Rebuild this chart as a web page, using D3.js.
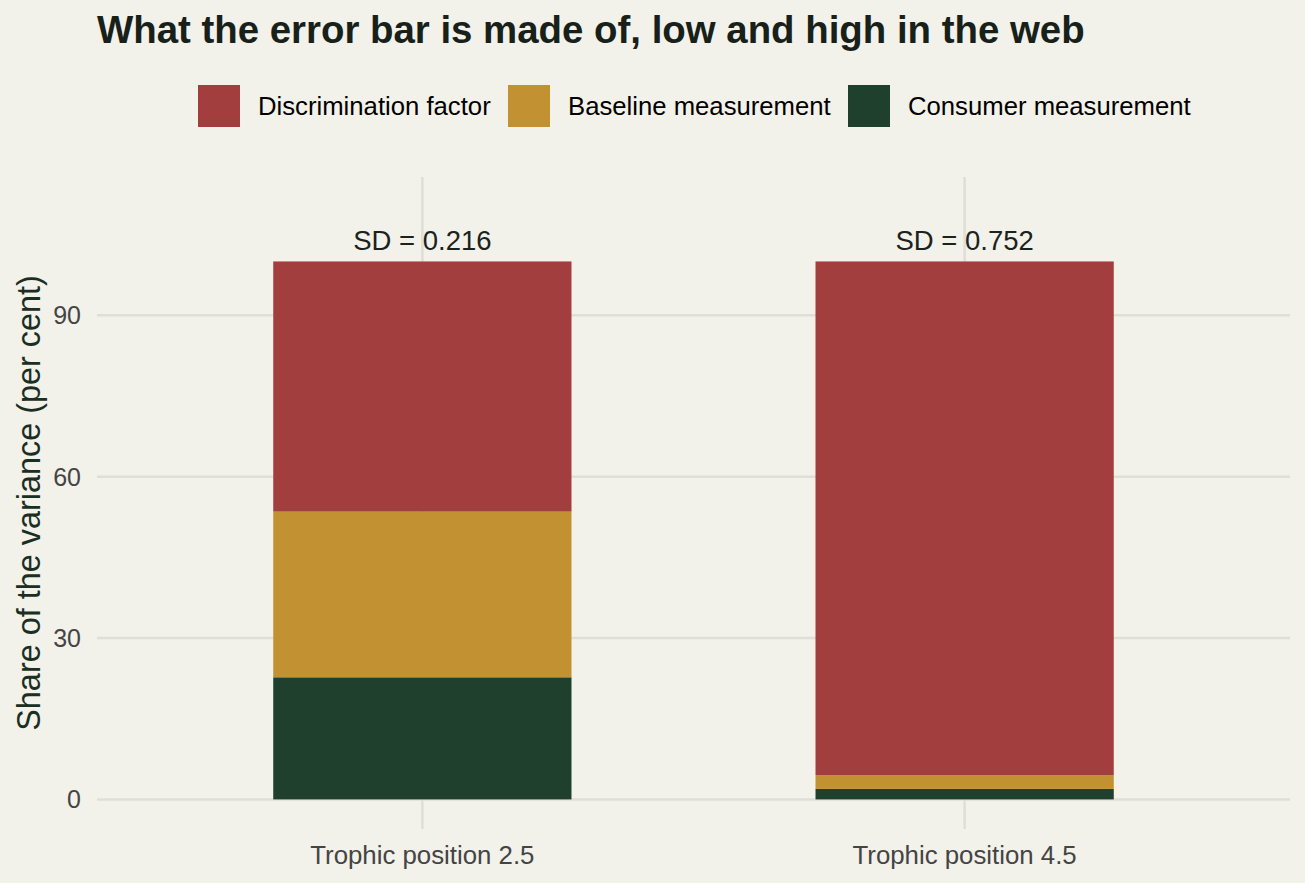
<!DOCTYPE html>
<html lang="en">
<head>
<meta charset="utf-8">
<script src="https://cdn.jsdelivr.net/npm/d3@7"></script>
<style>
    body { margin: 0; background: #F2F1EA; }
    text { font-family: "Liberation Sans", Arial, Helvetica, sans-serif; }
    .grid line { stroke: #E0DFD5; stroke-width: 2.5; }
</style>
</head>
<body>
<script>
    // values (per cent of the variance)
    var categories = ["Trophic position 2.5", "Trophic position 4.5"];
    var components = ["Discrimination factor", "Baseline measurement", "Consumer measurement"];
    var discrimination = [46.5, 95.5];
    var baseline = [30.8, 2.55];
    var consumer = [22.7, 1.95];
    var sdLabels = ["SD = 0.216", "SD = 0.752"];
    var yTicks = [0, 30, 60, 90];

    var colors = ["#A33E3E", "#C29232", "#1F402D"];

    var width = 1305, height = 883;
    var panel = {left: 97, right: 1290, top: 177, bottom: 829};

    var svg = d3.select("body").append("svg")
        .attr("width", width)
        .attr("height", height);

    svg.append("rect")
        .attr("width", width)
        .attr("height", height)
        .attr("fill", "#F2F1EA");

    var x = d3.scaleBand()
        .domain(categories)
        .range([panel.left, panel.right])
        .paddingInner(0.45)
        .paddingOuter(0.325);

    var y = d3.scaleLinear()
        .domain([-5.5, 115.7])
        .range([panel.bottom, panel.top]);

    // gridlines
    var grid = svg.append("g").attr("class", "grid");
    grid.selectAll(".hgrid")
        .data(yTicks)
        .enter().append("line")
        .attr("x1", panel.left)
        .attr("x2", panel.right)
        .attr("y1", function(d) { return y(d); })
        .attr("y2", function(d) { return y(d); });
    grid.selectAll(".vgrid")
        .data(categories)
        .enter().append("line")
        .attr("x1", function(d) { return x(d) + x.bandwidth() / 2; })
        .attr("x2", function(d) { return x(d) + x.bandwidth() / 2; })
        .attr("y1", panel.top)
        .attr("y2", panel.bottom);

    // stacked bars, consumer at the bottom
    var rows = categories.map(function(c, i) {
        return {
            cat: c,
            "Discrimination factor": discrimination[i],
            "Baseline measurement": baseline[i],
            "Consumer measurement": consumer[i]
        };
    });
    var stack = d3.stack().keys(components.slice().reverse());
    var series = stack(rows);

    svg.append("g")
        .selectAll("g")
        .data(series)
        .enter().append("g")
        .attr("fill", function(d) { return colors[components.indexOf(d.key)]; })
        .selectAll("rect")
        .data(function(d) { return d; })
        .enter().append("rect")
        .attr("x", function(d) { return x(d.data.cat); })
        .attr("width", x.bandwidth())
        .attr("y", function(d) { return y(d[1]); })
        .attr("height", function(d) { return y(d[0]) - y(d[1]); });

    // SD labels above the bars
    svg.selectAll(".sd")
        .data(categories)
        .enter().append("text")
        .attr("x", function(d) { return x(d) + x.bandwidth() / 2; })
        .attr("y", function(d, i) { return y(discrimination[i] + baseline[i] + consumer[i]) - 11; })
        .attr("text-anchor", "middle")
        .attr("font-size", 27.5)
        .attr("fill", "#1A231C")
        .text(function(d, i) { return sdLabels[i]; });

    // y axis labels
    svg.selectAll(".ytick")
        .data(yTicks)
        .enter().append("text")
        .attr("x", 81)
        .attr("y", function(d) { return y(d); })
        .attr("dy", "0.36em")
        .attr("text-anchor", "end")
        .attr("font-size", 25)
        .attr("fill", "#444444")
        .text(function(d) { return d; });

    // x axis labels
    svg.selectAll(".xtick")
        .data(categories)
        .enter().append("text")
        .attr("x", function(d) { return x(d) + x.bandwidth() / 2; })
        .attr("y", 864)
        .attr("text-anchor", "middle")
        .attr("font-size", 25.8)
        .attr("fill", "#444444")
        .text(function(d) { return d; });

    // y axis title
    svg.append("text")
        .attr("transform", "translate(39.5," + ((panel.top + panel.bottom) / 2) + ") rotate(-90)")
        .attr("text-anchor", "middle")
        .attr("font-size", 32.4)
        .attr("fill", "#1A2E22")
        .text("Share of the variance (per cent)");

    // title
    svg.append("text")
        .attr("x", 97)
        .attr("y", 43)
        .attr("font-size", 38.4)
        .attr("font-weight", "bold")
        .attr("fill", "#172119")
        .text("What the error bar is made of, low and high in the web");

    // legend
    var legendX = [198, 508, 848];
    var legend = svg.selectAll(".legend")
        .data(components)
        .enter().append("g")
        .attr("transform", function(d, i) { return "translate(" + legendX[i] + ",85)"; });
    legend.append("rect")
        .attr("width", 42)
        .attr("height", 42)
        .attr("fill", function(d, i) { return colors[i]; });
    legend.append("text")
        .attr("x", 60)
        .attr("y", 21)
        .attr("dy", "0.36em")
        .attr("font-size", 25.7)
        .attr("fill", "#000000")
        .text(function(d) { return d; });
</script>
</body>
</html>
